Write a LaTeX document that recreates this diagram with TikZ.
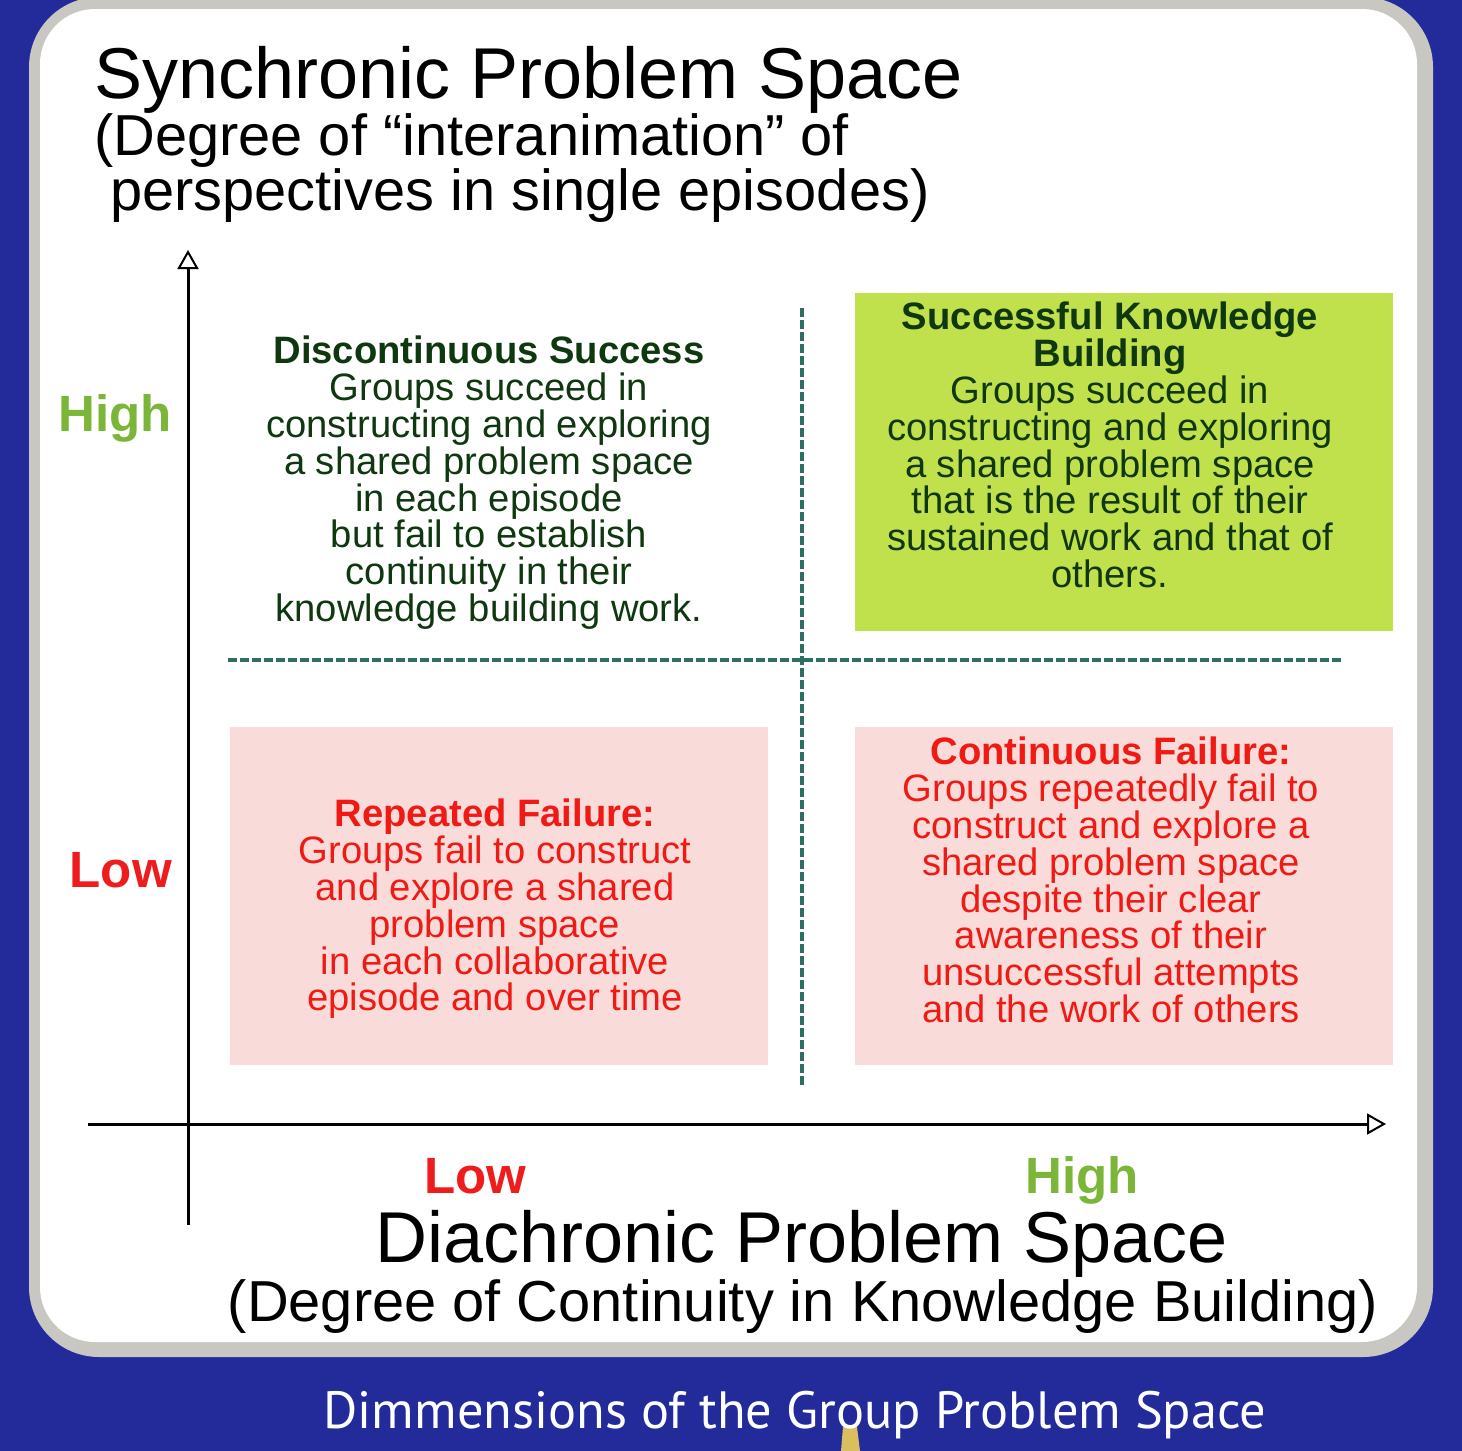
\documentclass[tikz,border=0pt]{standalone}
\usepackage{fontspec}
\setmainfont{Liberation Sans}
\newfontfamily\capfont{PT Sans}
\usetikzlibrary{arrows.meta}

\definecolor{bgblue}{RGB}{35,43,155}
\definecolor{framegray}{RGB}{200,199,194}
\definecolor{kbgreen}{RGB}{192,224,76}
\definecolor{failpink}{RGB}{249,219,218}
\definecolor{darkgreen}{RGB}{16,56,16}
\definecolor{failred}{RGB}{240,26,20}
\definecolor{higreen}{RGB}{124,182,56}
\definecolor{lored}{RGB}{238,28,28}
\definecolor{dashteal}{RGB}{47,110,99}
\definecolor{tabyellow}{RGB}{217,191,94}

\begin{document}
\begin{tikzpicture}[x=1pt,y=-1pt,
  quadbox/.style={draw=none, inner sep=0pt, minimum width=538pt, minimum height=338pt},
  qtext/.style={align=center, inner sep=0pt, anchor=north, font=\fontsize{38.2}{36.8}\selectfont},
  axlabel/.style={inner sep=0pt, font=\fontsize{51}{51}\selectfont\bfseries},
  bigtitle/.style={inner sep=0pt, font=\fontsize{72}{72}\selectfont},
  subtitle/.style={inner sep=0pt, font=\fontsize{57.8}{58}\selectfont},
  axis/.style={draw=black, line width=3pt, -{Triangle[open, length=19pt, width=21pt, line width=2pt]}},
  divider/.style={draw=dashteal, line width=3.2pt, dash pattern=on 9pt off 3pt}]

\useasboundingbox (0,0) rectangle (1462,1451);

% blue backdrop, grey frame and white panel
\fill[bgblue] (0,0) rectangle (1462,1451);
\fill[framegray, rounded corners=70pt] (29,-3) rectangle (1433,1357);
\fill[white, rounded corners=55pt] (40,9) rectangle (1417,1342);
\fill[tabyellow] (843,1427) -- (857,1427) -- (860,1451) -- (841,1451) -- cycle;

% vertical axis title
\node[bigtitle, anchor=base west] (syn) at (94,98) {Synchronic Problem Space};
\node[subtitle, anchor=base west] (synsubA) at (94,155) {(Degree of “interanimation” of};
\node[subtitle, anchor=base west] (synsubB) at (110,210) {perspectives in single episodes)};

% quadrant backgrounds
\node[quadbox, fill=kbgreen] (kbbox) at (1124,462) {};
\node[quadbox, fill=failpink] (rfbox) at (499,896) {};
\node[quadbox, fill=failpink] (cfbox) at (1124,896) {};

% quadrant dividers
\coordinate (hleft) at (228,660);
\coordinate (hright) at (1342,660);
\coordinate (vtop) at (802,308);
\coordinate (vbot) at (802,1085);
\draw[divider] (hleft) -- (hright);
\draw[divider] (vtop) -- (vbot);

% axes
\coordinate (yfoot) at (188,1225);
\coordinate (ytip) at (188,250);
\coordinate (xfoot) at (88,1124);
\coordinate (xtip) at (1386,1124);
\draw[axis] (yfoot) -- (ytip);
\draw[axis] (xfoot) -- (xtip);

% quadrant texts
\node[qtext, text=darkgreen] (dstext) at (489,336)
  {\textbf{Discontinuous Success}\\Groups succeed in\\constructing and exploring\\a shared problem space\\in each episode\\but fail to establish\\continuity in their\\knowledge building work.};
\node[qtext, text=darkgreen] (kbtext) at (1110,302)
  {\textbf{Successful Knowledge}\\\textbf{Building}\\Groups succeed in\\constructing and exploring\\a shared problem space\\that is the result of their\\sustained work and that of\\others.};
\node[qtext, text=failred] (rftext) at (495,799)
  {\textbf{Repeated Failure:}\\Groups fail to construct\\and explore a shared\\problem space\\in each collaborative\\episode and over time};
\node[qtext, text=failred] (cftext) at (1111,737)
  {\textbf{Continuous Failure:}\\Groups repeatedly fail to\\construct and explore a\\shared problem space\\despite their clear\\awareness of their\\unsuccessful attempts\\and the work of others};

% axis levels
\node[axlabel, text=higreen, anchor=base east] (yhigh) at (172,431) {High};
\node[axlabel, text=lored, anchor=base east] (ylow) at (172,887) {Low};
\node[axlabel, text=lored, anchor=base] (xlow) at (475,1193) {Low};
\node[axlabel, text=higreen, anchor=base] (xhigh) at (1082,1193) {High};

% horizontal axis title
\node[bigtitle, anchor=base] (dia) at (802,1262) {Diachronic Problem Space};
\node[subtitle, anchor=base] (diasub) at (803,1321) {(Degree of Continuity in Knowledge Building)};

% caption on the blue band
\node[inner sep=0pt, anchor=base, text=white, font=\capfont\fontsize{52.4}{52}\selectfont] (caption) at (795,1428)
  {Dimmensions of the Group Problem Space};
\end{tikzpicture}
\end{document}
